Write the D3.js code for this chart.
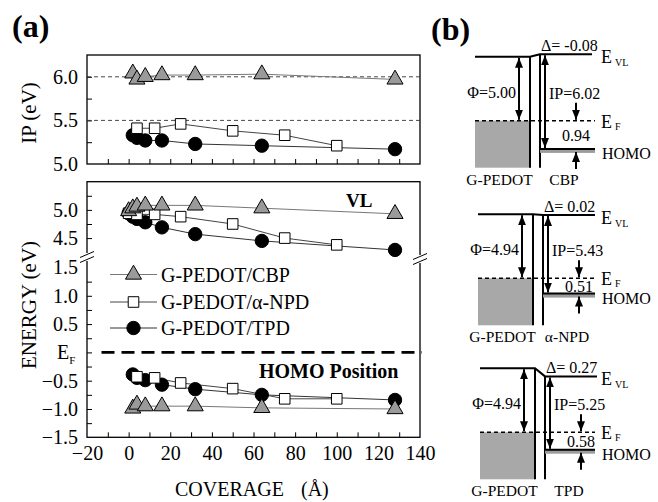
<!DOCTYPE html>
<html>
<head>
<meta charset="utf-8">
<script src="https://cdn.jsdelivr.net/npm/d3@7"></script>
<style>
body { margin: 0; background: #fff; }
svg text { font-family: "Liberation Serif", "Times New Roman", serif; fill: #000; }
</style>
</head>
<body>
<div class="root"></div>
<script>
// ---- panel (a) data ----
var cbpX    = [2, 4, 8, 16, 32, 64, 128];
var cbpIP   = [6.04, 5.97, 6.00, 6.02, 6.02, 6.03, 5.97];
var cbpVLX  = [0, 2, 4, 8, 16, 32, 64, 128];
var cbpVL   = [4.98, 5.03, 5.06, 5.08, 5.08, 5.08, 5.03, 4.93];
var cbpHOMO = [-0.99, -0.92, -0.95, -0.95, -0.95, -0.98, -1.00];

var npdX    = [4, 12.5, 25, 50, 75, 100];
var npdIP   = [5.41, 5.41, 5.46, 5.38, 5.33, 5.21];
var npdVLX  = [0, 4, 12.5, 25, 50, 75, 100];
var npdVL   = [4.94, 4.92, 4.92, 4.88, 4.75, 4.50, 4.38];
var npdHOMO = [-0.43, -0.45, -0.54, -0.64, -0.82, -0.82];

var tpdX    = [2, 4, 8, 16, 32, 64, 128];
var tpdIP   = [5.33, 5.30, 5.27, 5.27, 5.23, 5.21, 5.17];
var tpdVLX  = [0, 2, 4, 8, 16, 32, 64, 128];
var tpdVL   = [4.94, 4.88, 4.84, 4.78, 4.69, 4.57, 4.45, 4.29];
var tpdHOMO = [-0.39, -0.45, -0.49, -0.57, -0.65, -0.75, -0.84];

var legendNames = ['G-PEDOT/CBP', 'G-PEDOT/\u03b1-NPD', 'G-PEDOT/TPD'];

var xTicks     = [-20, 0, 20, 40, 60, 80, 100, 120, 140];
var ipTicks    = [5.0, 5.5, 6.0];
var lowTicks   = [-1.5, -1.0, -0.5, 0.5, 1.0, 1.5];
var upTicks    = [4.5, 5.0];

// ---- panel (b) data ----
var diagOrganic = ['CBP', '\u03b1-NPD', 'TPD'];
var diagPhi     = [5.00, 4.94, 4.94];
var diagIP      = [6.02, 5.43, 5.25];
var diagDelta   = [-0.08, 0.02, 0.27];
var diagBarrier = [0.94, 0.51, 0.58];

var W = 658, H = 502;
var svg = d3.select('.root').append('svg').attr('width', W).attr('height', H);

var defs = svg.append('defs');
defs.append('marker')
    .attr('id', 'arr')
    .attr('viewBox', '0 0 10 8')
    .attr('refX', 10).attr('refY', 4)
    .attr('markerUnits', 'userSpaceOnUse')
    .attr('markerWidth', 10).attr('markerHeight', 8)
    .attr('orient', 'auto-start-reverse')
  .append('path').attr('d', 'M0,0 L10,4 L0,8 Z').attr('fill', '#000');

// scales
var x = d3.scaleLinear().domain([-20, 140]).range([87, 420]);
var yIP = d3.scaleLinear().domain([5.0, 6.25]).range([164, 55]);
// broken energy axis: lower part -1.5..1.65, squeezed gap, upper part 4.2..5.5
var yE = d3.scaleLinear().domain([-1.5, 1.65, 4.2, 5.5]).range([437.3, 259, 255, 181.7]);

var fmt1 = d3.format('.1f');
var fmt2 = function (v) { return d3.format('.2f')(v).replace('\u2212', '-'); };

// ---------- frames ----------
svg.append('rect').attr('x', x(-20)).attr('y', yIP(6.25))
   .attr('width', x(140) - x(-20)).attr('height', yIP(5.0) - yIP(6.25))
   .attr('fill', 'none').attr('stroke', '#000').attr('stroke-width', 1.3);
svg.append('rect').attr('x', x(-20)).attr('y', yE(5.5))
   .attr('width', x(140) - x(-20)).attr('height', yE(-1.5) - yE(5.5))
   .attr('fill', 'none').attr('stroke', '#000').attr('stroke-width', 1.3);

function cleanAxis(g) {
  g.select('.domain').remove();
  g.selectAll('line').attr('stroke', '#000');
  g.selectAll('text').attr('font-size', 20).attr('font-family', '"Liberation Serif", serif');
}

// x minor ticks (inward) on both panels
[yIP(5.0), yE(-1.5)].forEach(function (yy) {
  svg.append('g').attr('transform', 'translate(0,' + yy + ')')
     .call(d3.axisBottom(x).tickValues(d3.range(-10, 140, 10)).tickSize(-5).tickFormat(''))
     .call(cleanAxis);
});
svg.append('g').attr('transform', 'translate(0,' + yE(-1.5) + ')')
   .call(d3.axisBottom(x).tickValues(xTicks).tickSize(0).tickPadding(9).tickFormat(d3.format('d')))
   .call(cleanAxis);

// IP axis
svg.append('g').attr('transform', 'translate(' + x(-20) + ',0)')
   .call(d3.axisLeft(yIP).tickValues(d3.range(5.25, 6.2, 0.25)).tickSize(-5).tickFormat(''))
   .call(cleanAxis);
svg.append('g').attr('transform', 'translate(' + x(-20) + ',0)')
   .call(d3.axisLeft(yIP).tickValues(ipTicks).tickSize(0).tickPadding(9).tickFormat(fmt1))
   .call(cleanAxis);

// energy axis
svg.append('g').attr('transform', 'translate(' + x(-20) + ',0)')
   .call(d3.axisLeft(yE).tickValues(d3.range(-1.25, 1.5, 0.25).concat([4.5, 4.75, 5.0, 5.25])).tickSize(-5).tickFormat(''))
   .call(cleanAxis);
svg.append('g').attr('transform', 'translate(' + x(-20) + ',0)')
   .call(d3.axisLeft(yE).tickValues(lowTicks.concat(upTicks)).tickSize(0).tickPadding(9).tickFormat(fmt1))
   .call(cleanAxis);

// E_F tick label
var ef = svg.append('text').attr('x', 57).attr('y', yE(0) + 7).attr('font-size', 20);
ef.append('tspan').text('E');
ef.append('tspan').attr('font-size', 11).attr('dy', 5).text('F');

// reference lines
svg.selectAll('.ipref').data([5.5, 6.0]).enter().append('line')
   .attr('x1', x(-20)).attr('x2', x(140))
   .attr('y1', d => yIP(d)).attr('y2', d => yIP(d))
   .attr('stroke', '#333').attr('stroke-width', 0.9).attr('stroke-dasharray', '4,3');
svg.append('line').attr('x1', 101.5).attr('x2', 422)
   .attr('y1', yE(0)).attr('y2', yE(0))
   .attr('stroke', '#000').attr('stroke-width', 2.6).attr('stroke-dasharray', '13,7');

// axis breaks
function axisBreak(cx, cy) {
  svg.append('rect').attr('x', cx - 3).attr('y', cy - 4).attr('width', 6).attr('height', 8).attr('fill', '#fff');
  [-2.5, 2.5].forEach(function (o) {
    svg.append('line').attr('x1', cx - 7).attr('y1', cy + o + 3).attr('x2', cx + 7).attr('y2', cy + o - 3)
       .attr('stroke', '#000').attr('stroke-width', 1);
  });
}
axisBreak(x(-20), 257);
axisBreak(x(140), 259);

// ---------- series ----------
var triangle = d3.symbol().type(d3.symbolTriangle).size(112);
var square   = d3.symbol().type(d3.symbolSquare).size(112);
var circle   = d3.symbol().type(d3.symbolCircle).size(140);

var series = [
  { sym: circle,   fill: '#000', line: '#333',
    parts: [[tpdX, tpdIP, yIP], [tpdVLX, tpdVL, yE], [tpdX, tpdHOMO, yE]] },
  { sym: square,   fill: '#fff', line: '#444',
    parts: [[npdX, npdIP, yIP], [npdVLX, npdVL, yE], [npdX, npdHOMO, yE]] },
  { sym: triangle, fill: '#9a9a9a', line: '#777',
    parts: [[cbpX, cbpIP, yIP], [cbpVLX, cbpVL, yE], [cbpX, cbpHOMO, yE]] }
];

series.forEach(function (s) {
  s.parts.forEach(function (p) {
    var pts = p[0].map((v, i) => [v, p[1][i]]);
    svg.append('path').datum(pts)
       .attr('d', d3.line().x(d => x(d[0])).y(d => p[2](d[1])))
       .attr('fill', 'none').attr('stroke', s.line).attr('stroke-width', 1);
  });
});
series.forEach(function (s) {
  s.parts.forEach(function (p) {
    var pts = p[0].map((v, i) => [v, p[1][i]]);
    svg.append('g').selectAll('path').data(pts).enter().append('path')
       .attr('d', s.sym)
       .attr('transform', d => 'translate(' + x(d[0]) + ',' + p[2](d[1]) + ')')
       .attr('fill', s.fill).attr('stroke', '#000').attr('stroke-width', 1);
  });
});

// legend
var legSyms = [triangle, square, circle];
var legFill = ['#9a9a9a', '#fff', '#000'];
var legLine = ['#777', '#444', '#333'];
var legY = [274.5, 302, 328];
legendNames.forEach(function (n, i) {
  svg.append('line').attr('x1', 110).attr('x2', 157).attr('y1', legY[i]).attr('y2', legY[i])
     .attr('stroke', legLine[i]).attr('stroke-width', 1);
  svg.append('path').attr('d', legSyms[i]).attr('transform', 'translate(133.5,' + legY[i] + ')')
     .attr('fill', legFill[i]).attr('stroke', '#000');
  svg.append('text').attr('x', 161).attr('y', legY[i] + 7).attr('font-size', 20).text(n);
});

// labels in panel (a)
svg.append('text').attr('x', 346).attr('y', 207).attr('font-size', 19).attr('font-weight', 'bold').text('VL');
svg.append('text').attr('x', 259).attr('y', 378).attr('font-size', 20).attr('font-weight', 'bold').text('HOMO Position');

svg.append('text').attr('transform', 'translate(36,113) rotate(-90)').attr('text-anchor', 'middle')
   .attr('font-size', 21).text('IP (eV)');
svg.append('text').attr('transform', 'translate(36,305) rotate(-90)').attr('text-anchor', 'middle')
   .attr('font-size', 21).text('ENERGY (eV)');
var cov = svg.append('text').attr('x', 175).attr('y', 496).attr('font-size', 20);
cov.append('tspan').text('COVERAGE');
cov.append('tspan').attr('x', 301).text('(\u00c5)');

svg.append('text').attr('x', 12).attr('y', 37).attr('font-size', 32).attr('font-weight', 'bold').text('(a)');
svg.append('text').attr('x', 431).attr('y', 40).attr('font-size', 32).attr('font-weight', 'bold').text('(b)');

// ---------- panel (b): energy level diagrams ----------
var dE = d3.scaleLinear().domain([0, 1]).range([0, 30]);   // px per eV near the interface
var diagTop  = [56.7, 214.3, 368.3];
var diagLeft = [475, 478, 480];

diagOrganic.forEach(function (org, i) {
  var g = svg.append('g');
  var left = diagLeft[i], sx = left + 55, ox = sx + 10, right = 595;
  var vl = diagTop[i];
  var vlOrg = vl + dE(diagDelta[i]);
  var yF = vl + 64;
  var yH = yF + dE(diagBarrier[i]);
  var bottom = yF + 47;

  // metal
  g.append('rect').attr('x', left).attr('y', yF).attr('width', sx - left).attr('height', bottom - yF)
   .attr('fill', '#a8a8a8');
  // vacuum levels
  g.append('path').attr('d', d3.line()([[left, vl], [sx, vl], [ox, vlOrg], [ox + 52, vlOrg]]))
   .attr('fill', 'none').attr('stroke', '#000').attr('stroke-width', 2);
  // interface walls
  g.append('line').attr('x1', sx).attr('x2', sx).attr('y1', vl).attr('y2', bottom)
   .attr('stroke', '#000').attr('stroke-width', 2);
  g.append('line').attr('x1', ox).attr('x2', ox).attr('y1', vlOrg).attr('y2', bottom)
   .attr('stroke', '#000').attr('stroke-width', 2);
  // Fermi level
  g.append('line').attr('x1', left).attr('x2', right).attr('y1', yF).attr('y2', yF)
   .attr('stroke', '#000').attr('stroke-width', 1.6).attr('stroke-dasharray', '4,3');
  // HOMO
  g.append('rect').attr('x', ox).attr('y', yH).attr('width', right - ox).attr('height', 4).attr('fill', '#9c9c9c');
  g.append('line').attr('x1', ox).attr('x2', right).attr('y1', yH).attr('y2', yH)
   .attr('stroke', '#000').attr('stroke-width', 2);

  // arrows
  var px = sx - 11, ix = ox + 5, bx = ox + 36;
  g.append('line').attr('x1', px).attr('x2', px).attr('y1', vl + 1).attr('y2', yF - 1)
   .attr('stroke', '#000').attr('stroke-width', 2)
   .attr('marker-start', 'url(#arr)').attr('marker-end', 'url(#arr)');
  g.append('line').attr('x1', ix).attr('x2', ix).attr('y1', vlOrg + 1).attr('y2', yH - 1)
   .attr('stroke', '#000').attr('stroke-width', 2)
   .attr('marker-start', 'url(#arr)').attr('marker-end', 'url(#arr)');
  g.append('line').attr('x1', bx).attr('x2', bx).attr('y1', yF - 18).attr('y2', yF - 1)
   .attr('stroke', '#000').attr('stroke-width', 2).attr('marker-end', 'url(#arr)');
  g.append('line').attr('x1', bx).attr('x2', bx).attr('y1', yH + 20).attr('y2', yH + 3)
   .attr('stroke', '#000').attr('stroke-width', 2).attr('marker-end', 'url(#arr)');

  var mid = (vl + yF) / 2;
  g.append('text').attr('x', px - 3).attr('y', mid + 9).attr('text-anchor', 'end').attr('font-size', 16)
   .text('\u03a6=' + fmt2(diagPhi[i]));
  g.append('text').attr('x', ix + 4).attr('y', mid + 10).attr('font-size', 16)
   .text('IP=' + fmt2(diagIP[i]));
  g.append('text').attr('x', ox + 1).attr('y', vlOrg - 3).attr('font-size', 16)
   .text('\u0394= ' + fmt2(diagDelta[i]));
  g.append('text').attr('x', bx).attr('y', (yF + yH) / 2 + 6).attr('text-anchor', 'middle').attr('font-size', 16)
   .text(fmt2(diagBarrier[i]));

  // level names
  var t1 = g.append('text').attr('x', 601).attr('y', vlOrg + 9).attr('font-size', 18);
  t1.append('tspan').text('E');
  t1.append('tspan').attr('dx', 3).attr('dy', 3).attr('font-size', 10).text('VL');
  var t2 = g.append('text').attr('x', 601).attr('y', yF + 7).attr('font-size', 18);
  t2.append('tspan').text('E');
  t2.append('tspan').attr('dx', 3).attr('dy', 2).attr('font-size', 10).text('F');
  g.append('text').attr('x', 602).attr('y', yH + 10).attr('font-size', 16).text('HOMO');

  g.append('text').attr('x', (left + sx) / 2 - 3).attr('y', bottom + 17).attr('text-anchor', 'middle')
   .attr('font-size', 15.5).text('G-PEDOT');
  g.append('text').attr('x', ox + 24).attr('y', bottom + 17).attr('text-anchor', 'middle')
   .attr('font-size', 15.5).text(org);
});
</script>
</body>
</html>
